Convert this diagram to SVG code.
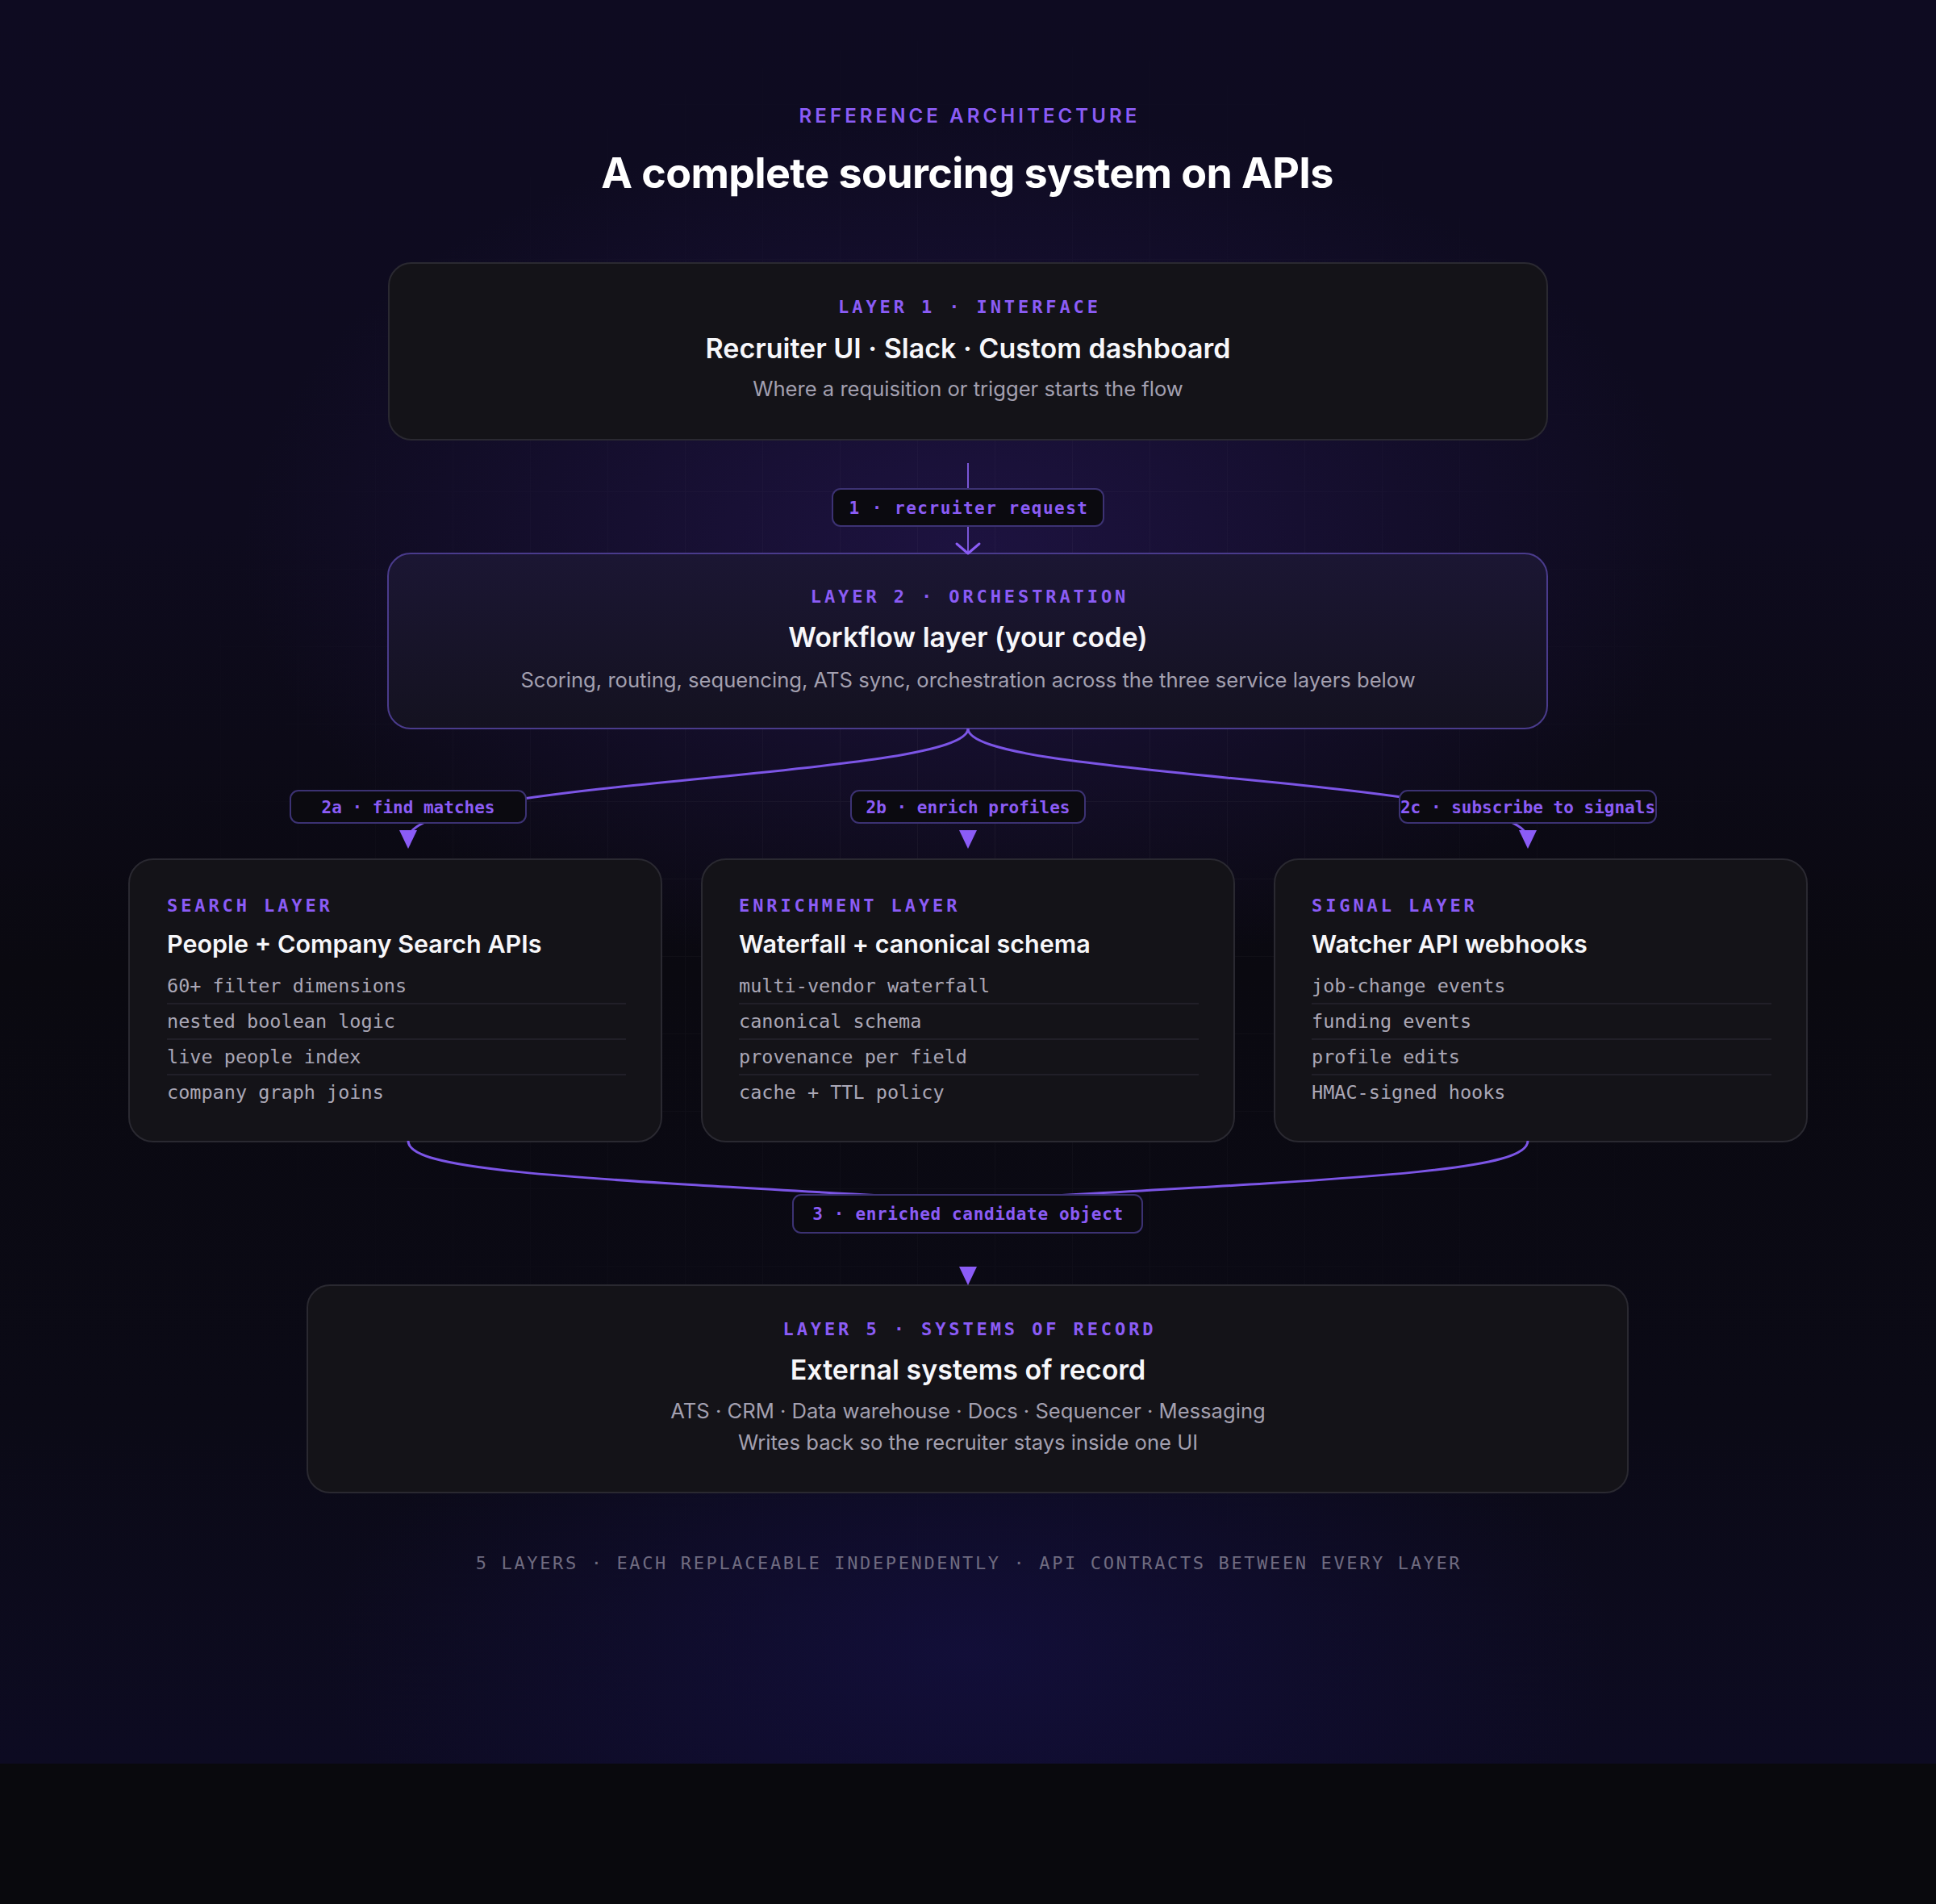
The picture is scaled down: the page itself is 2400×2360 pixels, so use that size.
<svg xmlns="http://www.w3.org/2000/svg" width="2400" height="2360" viewBox="0 0 2400 2360">
  <defs>
    <style>
      .sans { font-family: Inter, "Liberation Sans", sans-serif; }
      .mono { font-family: "DejaVu Sans Mono", "Liberation Mono", monospace; }
      .kicker { font-family: "DejaVu Sans Mono", "Liberation Mono", monospace; font-weight: 700; font-size: 22px; letter-spacing: 3.9px; fill: #8b5cf6; }
      .h2 { font-family: Inter, "Liberation Sans", sans-serif; font-weight: 600; font-size: 34px; letter-spacing: 0px; fill: #f7f7fa; }
      .h3 { font-family: Inter, "Liberation Sans", sans-serif; font-weight: 600; font-size: 30.5px; letter-spacing: 0px; fill: #f7f7fa; }
      .sub { font-family: Inter, "Liberation Sans", sans-serif; font-weight: 400; font-size: 25.6px; fill: #a3a0b0; }
      .item { font-family: "DejaVu Sans Mono", "Liberation Mono", monospace; font-size: 23.5px; fill: #aaa7b6; }
      .card { fill: #141318; stroke: #2a2931; stroke-width: 2; }
      .sep { stroke: #26242e; stroke-width: 1.5; }
      .pill { fill: #0b0a10; stroke: #3c3273; stroke-width: 2; }
      .pilltext { font-family: "DejaVu Sans Mono", "Liberation Mono", monospace; font-weight: 700; font-size: 21px; fill: #8b5cf6; }
      .flow { fill: none; stroke: #7c55e6; stroke-width: 3; }
      .c { text-anchor: middle; }
    </style>
    <linearGradient id="bg" x1="0" y1="0" x2="0" y2="1">
      <stop offset="0" stop-color="#0e0b21"/>
      <stop offset="0.3" stop-color="#0e0b1e"/>
      <stop offset="0.55" stop-color="#0a0910"/>
      <stop offset="0.8" stop-color="#0b0a16"/>
      <stop offset="1" stop-color="#0d0b22"/>
    </linearGradient>
    <radialGradient id="glowTop" cx="1200" cy="680" r="900" gradientUnits="userSpaceOnUse" gradientTransform="translate(1200 680) scale(1 0.6) translate(-1200 -680)">
      <stop offset="0" stop-color="#2c1a62" stop-opacity="0.5"/>
      <stop offset="1" stop-color="#2c1a62" stop-opacity="0"/>
    </radialGradient>
    <radialGradient id="glowBot" cx="1200" cy="2050" r="800" gradientUnits="userSpaceOnUse" gradientTransform="translate(1200 2050) scale(1 0.5) translate(-1200 -2050)">
      <stop offset="0" stop-color="#16114a" stop-opacity="0.6"/>
      <stop offset="1" stop-color="#16114a" stop-opacity="0"/>
    </radialGradient>
    <radialGradient id="gridFade" cx="1200" cy="1000" r="1100" gradientUnits="userSpaceOnUse">
      <stop offset="0" stop-color="#fff" stop-opacity="1"/>
      <stop offset="1" stop-color="#fff" stop-opacity="0"/>
    </radialGradient>
    <mask id="gridMask">
      <rect width="2400" height="2186" fill="url(#gridFade)"/>
    </mask>
    <pattern id="grid" x="81" y="33" width="96" height="96" patternUnits="userSpaceOnUse">
      <path d="M0,0 H96 M0,0 V96" fill="none" stroke="#ffffff" stroke-opacity="0.045" stroke-width="2"/>
    </pattern>
    <linearGradient id="l2fill" x1="0" y1="0" x2="0" y2="1">
      <stop offset="0" stop-color="#1b1633"/>
      <stop offset="1" stop-color="#141220"/>
    </linearGradient>
    <marker id="tri" markerUnits="userSpaceOnUse" viewBox="-12 -12 25 24" markerWidth="25" markerHeight="24" refX="0" refY="0" orient="auto">
      <path d="M-11,-11 L12,0 L-11,11 z" fill="#8b5cf6"/>
    </marker>
    <marker id="chev" markerUnits="userSpaceOnUse" viewBox="-15 -17 18 34" markerWidth="18" markerHeight="34" refX="0" refY="0" orient="auto">
      <path d="M-12,-14 L0,0 L-12,14" fill="none" stroke="#8b5cf6" stroke-width="3" stroke-linecap="round" stroke-linejoin="round"/>
    </marker>
  </defs>

  <!-- background -->
  <rect width="2400" height="2360" fill="#09090d"/>
  <rect width="2400" height="2186" fill="url(#bg)"/>
  <rect width="2400" height="2186" fill="url(#glowTop)"/>
  <rect width="2400" height="2186" fill="url(#glowBot)"/>
  <rect width="2400" height="2186" fill="url(#grid)" mask="url(#gridMask)"/>

  <!-- header -->
  <g id="header">
    <text x="1202" y="152" class="sans c" font-weight="600" font-size="24" letter-spacing="4.1" fill="#8b5cf6">REFERENCE ARCHITECTURE</text>
    <text x="1199" y="233" class="sans c" font-weight="700" font-size="52" letter-spacing="-0.6" fill="#ffffff">A complete sourcing system on APIs</text>
  </g>

  <!-- Layer 1 -->
  <g id="layer1">
    <rect x="482" y="326" width="1436" height="219" rx="28" class="card"/>
    <text x="1202" y="388" class="kicker c">LAYER 1 · INTERFACE</text>
    <text x="1200" y="444" class="h2 c">Recruiter UI · Slack · Custom dashboard</text>
    <text x="1200" y="491" class="sub c">Where a requisition or trigger starts the flow</text>
  </g>

  <!-- Layer 2 -->
  <g id="layer2">
    <rect x="481" y="686" width="1437" height="217" rx="28" fill="url(#l2fill)" stroke="#4a3b8c" stroke-width="2"/>
    <text x="1202" y="747" class="kicker c">LAYER 2 · ORCHESTRATION</text>
    <text x="1200" y="802" class="h2 c">Workflow layer (your code)</text>
    <text x="1200" y="852" class="sub c">Scoring, routing, sequencing, ATS sync, orchestration across the three service layers below</text>
  </g>

  <!-- Search layer -->
  <g id="search-layer">
    <rect x="160" y="1065" width="660" height="350" rx="30" class="card"/>
    <text x="207" y="1130" class="kicker">SEARCH LAYER</text>
    <text x="207" y="1181" class="h3">People + Company Search APIs</text>
    <text x="207" y="1230" class="item">60+ filter dimensions</text>
    <line x1="207" y1="1244" x2="776" y2="1244" class="sep"/>
    <text x="207" y="1274" class="item">nested boolean logic</text>
    <line x1="207" y1="1288" x2="776" y2="1288" class="sep"/>
    <text x="207" y="1318" class="item">live people index</text>
    <line x1="207" y1="1332" x2="776" y2="1332" class="sep"/>
    <text x="207" y="1362" class="item">company graph joins</text>
  </g>

  <!-- Enrichment layer -->
  <g id="enrichment-layer">
    <rect x="870" y="1065" width="660" height="350" rx="30" class="card"/>
    <text x="916" y="1130" class="kicker">ENRICHMENT LAYER</text>
    <text x="916" y="1181" class="h3">Waterfall + canonical schema</text>
    <text x="916" y="1230" class="item">multi-vendor waterfall</text>
    <line x1="916" y1="1244" x2="1486" y2="1244" class="sep"/>
    <text x="916" y="1274" class="item">canonical schema</text>
    <line x1="916" y1="1288" x2="1486" y2="1288" class="sep"/>
    <text x="916" y="1318" class="item">provenance per field</text>
    <line x1="916" y1="1332" x2="1486" y2="1332" class="sep"/>
    <text x="916" y="1362" class="item">cache + TTL policy</text>
  </g>

  <!-- Signal layer -->
  <g id="signal-layer">
    <rect x="1580" y="1065" width="660" height="350" rx="30" class="card"/>
    <text x="1626" y="1130" class="kicker">SIGNAL LAYER</text>
    <text x="1626" y="1181" class="h3">Watcher API webhooks</text>
    <text x="1626" y="1230" class="item">job-change events</text>
    <line x1="1626" y1="1244" x2="2196" y2="1244" class="sep"/>
    <text x="1626" y="1274" class="item">funding events</text>
    <line x1="1626" y1="1288" x2="2196" y2="1288" class="sep"/>
    <text x="1626" y="1318" class="item">profile edits</text>
    <line x1="1626" y1="1332" x2="2196" y2="1332" class="sep"/>
    <text x="1626" y="1362" class="item">HMAC-signed hooks</text>
  </g>

  <!-- Layer 5 -->
  <g id="layer5">
    <rect x="381" y="1593" width="1637" height="257" rx="28" class="card"/>
    <text x="1202" y="1655" class="kicker c">LAYER 5 · SYSTEMS OF RECORD</text>
    <text x="1200" y="1710" class="h2 c">External systems of record</text>
    <text x="1200" y="1758" class="sub c">ATS · CRM · Data warehouse · Docs · Sequencer · Messaging</text>
    <text x="1200" y="1797" class="sub c">Writes back so the recruiter stays inside one UI</text>
  </g>

  <!-- connectors -->
  <g id="connectors">
    <path d="M1200,574 L1200,686" fill="none" stroke="#7a56d8" stroke-width="2" marker-end="url(#chev)"/>
    <path d="M1200,903 C1200,965 506,965 506,1040" class="flow" marker-end="url(#tri)"/>
    <path d="M1200,1029 L1200,1040" class="flow" marker-end="url(#tri)"/>
    <path d="M1200,903 C1200,965 1894,965 1894,1040" class="flow" marker-end="url(#tri)"/>
    <path d="M506,1414 C506,1452 700,1460 1200,1488" class="flow"/>
    <path d="M1894,1414 C1894,1452 1700,1460 1200,1488" class="flow"/>
    <path d="M1200,1570 L1200,1581" class="flow" marker-end="url(#tri)"/>

    <g id="label-1">
      <rect x="1032" y="606" width="336" height="46" rx="10" class="pill"/>
      <text x="1201" y="637" class="pilltext c" font-size="22" letter-spacing="1.5">1 · recruiter request</text>
    </g>
    <g id="label-2a">
      <rect x="360" y="980" width="292" height="40" rx="10" class="pill"/>
      <text x="506" y="1008" class="pilltext c">2a · find matches</text>
    </g>
    <g id="label-2b">
      <rect x="1055" y="980" width="290" height="40" rx="10" class="pill"/>
      <text x="1200" y="1008" class="pilltext c">2b · enrich profiles</text>
    </g>
    <g id="label-2c">
      <rect x="1735" y="980" width="318" height="40" rx="10" class="pill"/>
      <text x="1894" y="1008" class="pilltext c">2c · subscribe to signals</text>
    </g>
    <g id="label-3">
      <rect x="983" y="1481" width="433" height="47" rx="10" class="pill"/>
      <text x="1200" y="1512" class="pilltext c" font-size="22" letter-spacing="0.65">3 · enriched candidate object</text>
    </g>
  </g>

  <!-- footer -->
  <text x="1201" y="1945" class="mono c" font-size="22" letter-spacing="2.63" fill="#6f6b80">5 LAYERS · EACH REPLACEABLE INDEPENDENTLY · API CONTRACTS BETWEEN EVERY LAYER</text>
</svg>
